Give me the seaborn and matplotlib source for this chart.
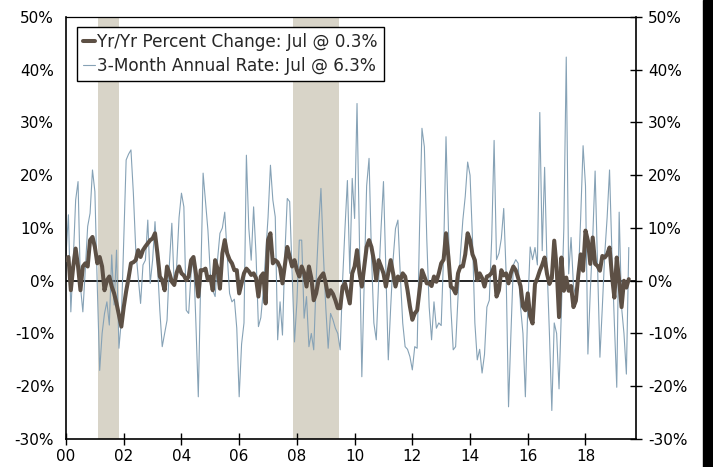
import numpy as np
import pandas as pd
import seaborn as sns
import matplotlib.pyplot as plt
from matplotlib.patches import Rectangle

# Monthly data, Jan 2000 - Jul 2019 (percent)
yoy_change = [
    3.9, 4.5, -1.8, 2.7, 6.1, 2.7, -1.8, 2.7, 3.3, 2.7, 7.7, 8.3,        # 2000
    6.4, 3.3, 4.5, 2.7, -1.8, 0.1, 0.8, -1.1, -2.4, -4.3, -6.5, -8.7,    # 2001
    -5.0, -2.0, 0.5, 3.3, 3.5, 3.9, 5.8, 4.5, 5.8, 6.5, 7.1, 7.7,        # 2002
    8.0, 9.0, 5.2, 0.8, 0.1, -1.8, 2.7, 1.4, -0.2, -0.8, 1.5, 2.7,       # 2003
    1.4, 1.0, 0.1, 0.8, 3.9, 4.5, 1.4, -3.0, 2.0, 2.0, 2.3, 0.1,         # 2004
    0.8, -1.8, 3.9, 2.3, -1.5, 5.2, 7.7, 5.2, 4.0, 3.3, 2.0, 2.0,        # 2005
    -2.4, -0.5, 1.4, 2.3, 1.8, 1.1, 1.4, 0.5, -3.0, 0.8, 1.4, -4.3,      # 2006
    7.7, 9.0, 3.3, 3.9, 3.5, 2.5, -0.5, 3.0, 6.4, 4.5, 2.7, 3.9,         # 2007
    2.0, 0.8, 2.7, 1.5, -1.1, 2.7, 0.5, -3.7, -2.4, 0.1, 0.8, 1.4,       # 2008
    -0.5, -3.0, -1.8, -2.5, -3.7, -5.2, -5.2, -1.1, -0.5, -2.4, -4.3, 1.4,  # 2009
    2.7, 5.8, 1.5, -1.1, 2.7, 6.4, 7.7, 6.4, 3.9, 0.1, 3.9, 2.7,         # 2010
    1.4, -1.1, 1.5, 3.9, 1.4, -1.1, 0.8, 0.1, 1.4, 0.8, -1.8, -4.9,      # 2011
    -7.4, -6.2, -5.6, -1.8, 2.0, 0.8, -0.5, -0.5, -1.0, 0.8, -0.2, 1.4,  # 2012
    3.3, 4.0, 9.0, 4.5, -1.1, -1.5, -2.4, 1.4, 2.7, 2.7, 5.0, 9.0,       # 2013
    7.7, 5.0, 3.9, 0.1, 1.4, 0.5, -1.1, 0.8, 1.0, 1.5, 2.7, -3.0,        # 2014
    -1.8, 2.0, 1.0, 1.4, -0.5, 1.5, 2.7, 2.0, 0.5, -1.0, -4.9, -5.6,     # 2015
    -2.4, -6.8, -8.1, -0.6, 0.5, 1.9, 3.0, 4.4, 1.3, -0.6, 0.5, 7.6,     # 2016
    2.5, -6.9, 4.4, -1.9, 0.6, -1.9, -1.0, -5.0, -3.8, 1.0, 5.0, 1.9,    # 2017
    9.5, 7.6, 3.2, 8.2, 3.2, 2.8, 1.9, 4.7, 4.4, 5.0, 6.3, 1.0,          # 2018
    -3.2, 4.4, 0.0, -5.0, 0.0, -1.3, 0.3,                                # 2019
]

annual_rate_3m = [
    5.0, 12.5, -5.9, 3.9, 15.3, 18.8, -1.1, -5.9, 2.0, 10.3, 12.8, 21.0,          # 2000
    16.9, -1.1, -17.0, -10.0, -6.2, -4.0, -8.4, 4.9, -4.6, 5.8, -12.8, -7.5,      # 2001
    8.0, 22.9, 24.0, 24.8, 16.6, 5.8, 0.8, -4.3, 3.0, 3.9, 11.5, -0.5,            # 2002
    3.9, 11.2, 3.3, -5.6, -12.5, -10.0, -7.5, 3.3, 10.9, -1.1, 2.7, 12.0,         # 2003
    16.6, 14.0, -5.6, -6.2, 1.5, 4.6, -8.0, -22.0, 0.0, 20.4, 15.0, 9.6,          # 2004
    1.4, -1.8, -3.0, 4.0, 9.0, 10.0, 13.0, 5.0, -2.4, -4.0, -3.5, -9.0,           # 2005
    -22.0, -12.0, -8.0, 23.8, 10.0, 3.9, 14.0, 5.0, -8.7, -7.0, -2.0, 5.0,        # 2006
    12.0, 21.9, 15.3, 12.1, -11.2, -4.0, -10.3, 5.0, 15.6, 15.0, 2.0, -11.6,      # 2007
    -4.0, 7.7, 7.7, -7.1, -3.0, -12.5, -10.0, -13.1, 0.0, 10.0, 17.5, 5.2,        # 2008
    -5.0, -12.8, -6.2, -7.4, -9.0, -10.0, -13.1, 0.0, 10.0, 19.0, 1.4, 19.4,      # 2009
    11.8, 33.6, 8.0, -18.2, 0.0, 18.0, 23.2, 5.0, -8.0, -11.2, 0.0, 10.0,         # 2010
    18.8, 2.0, -15.0, -5.0, 4.0, 9.9, 11.5, 1.0, -8.0, -12.5, -13.0, -14.4,       # 2011
    -16.9, -12.5, -12.8, 10.0, 28.9, 25.4, 8.0, -5.0, -11.2, -4.0, -9.0, -8.0,    # 2012
    -8.5, 5.0, 27.3, 10.0, -5.0, -13.1, -12.5, -3.0, 5.0, 11.5, 16.0, 22.5,       # 2013
    20.0, 8.0, -8.0, -15.0, -13.0, -17.5, -14.0, -5.0, -3.7, 8.0, 26.6, 4.0,      # 2014
    5.2, 8.0, 13.7, 1.4, -23.9, -10.0, 3.0, 4.0, 3.3, -5.0, -10.0, -22.0,         # 2015
    -5.0, 6.4, 4.0, 6.3, 3.0, 31.9, 5.7, 21.5, 3.0, -10.0, -24.6, -8.0,           # 2016
    -10.0, -20.5, -5.0, 10.0, 42.4, 1.3, 8.2, -1.0, -3.0, 0.0, 12.0, 25.6,        # 2017
    18.0, -13.9, -2.0, 8.0, 20.8, 3.0, -14.5, -5.0, 5.0, 12.0, 21.0, 5.0,         # 2018
    -8.0, -20.2, 13.0, -5.0, -10.0, -17.7, 6.3,                                   # 2019
]

# recessions (fractional years)
recession_start = [2001.12, 2007.88]
recession_end = [2001.85, 2009.46]

y_ticks = [-30, -20, -10, 0, 10, 20, 30, 40, 50]
x_ticks = [2000, 2002, 2004, 2006, 2008, 2010, 2012, 2014, 2016, 2018]
x_labels = ["00", "02", "04", "06", "08", "10", "12", "14", "16", "18"]

n = len(yoy_change)
df = pd.DataFrame({
    "year": 2000 + np.arange(n) / 12,
    "yoy": yoy_change,
    "ann": annual_rate_3m,
})

sns.set_style("white")
plt.rcParams["font.family"] = ["DejaVu Sans"]
plt.rcParams["font.size"] = 9.5

fig = plt.figure(figsize=(7.13, 4.67), dpi=100)
ax = fig.add_axes([0.0926, 0.06, 0.7994, 0.9036])

for s, e in zip(recession_start, recession_end):
    ax.axvspan(s, e, color="#d8d4c8", lw=0, zorder=0)

ax.axhline(0, color="black", lw=1.2, zorder=1)

sns.lineplot(data=df, x="year", y="ann", ax=ax, color="#86a2b6", lw=0.8,
             label="3-Month Annual Rate: Jul @ 6.3%", zorder=2)
sns.lineplot(data=df, x="year", y="yoy", ax=ax, color="#5d5045", lw=2.9,
             label="Yr/Yr Percent Change: Jul @ 0.3%", zorder=3)

ax.set_xlim(2000, 2019.75)
ax.set_ylim(-30, 50)
ax.set_yticks(y_ticks)
ax.set_yticklabels([f"{t}%" for t in y_ticks])
ax.set_xticks(x_ticks)
ax.set_xticklabels(x_labels)
ax.set_xlabel("")
ax.set_ylabel("")

ax.tick_params(axis="both", direction="inout", length=9, width=1, colors="black",
               labelsize=11)
ax.tick_params(axis="y", right=True, labelright=True, pad=4)
ax.tick_params(axis="x", bottom=True, pad=3)
for side in ["left", "right", "bottom", "top"]:
    ax.spines[side].set_color("black")
    ax.spines[side].set_linewidth(1.2)
ax.spines["top"].set_linewidth(0.9)

handles, labels = ax.get_legend_handles_labels()
leg = ax.legend(handles[::-1], labels[::-1], loc="upper left",
                bbox_to_anchor=(0.019, 0.976), frameon=True, fancybox=False,
                framealpha=1, edgecolor="black", fontsize=12.2,
                handlelength=0.75, handletextpad=0.1, borderpad=0.35,
                labelspacing=0.35, borderaxespad=0)
leg.get_frame().set_linewidth(1.0)

# dark strip on the right edge of the image
fig.patches.append(Rectangle((703 / 713, 0), 10 / 713, 1, transform=fig.transFigure,
                             color="black", zorder=10))

fig.savefig("out.png", dpi=100)
